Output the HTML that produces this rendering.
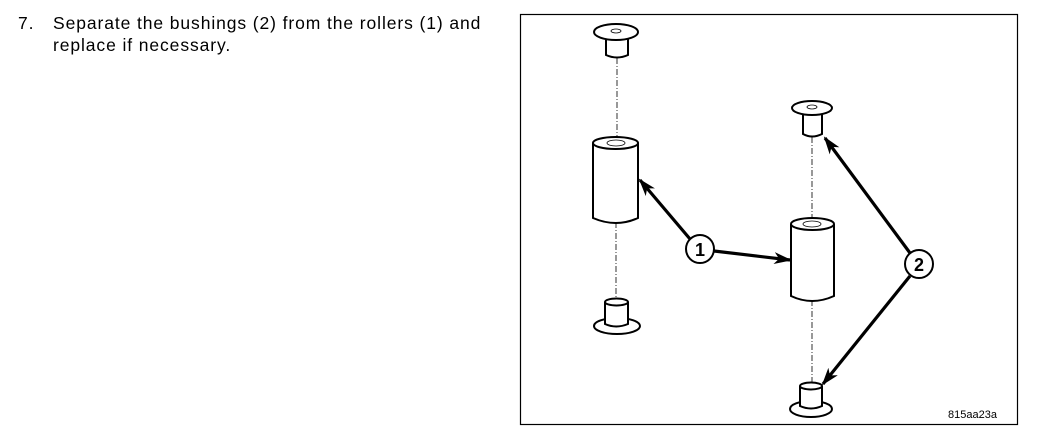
<!DOCTYPE html>
<html><head><style>
body{margin:0;width:1049px;height:441px;background:#fff;overflow:hidden;position:relative;font-family:"Liberation Sans",sans-serif;}
.t{position:absolute;font-size:17.5px;line-height:22px;color:#000;letter-spacing:0.9px;}
</style></head><body>
<div class="t" style="left:18px;top:12px;">7.</div>
<div class="t" style="left:53px;top:12px;width:470px;">Separate the bushings (2) from the rollers (1) and<br>replace if necessary.</div>
<svg width="1049" height="441" style="position:absolute;left:0;top:0" xmlns="http://www.w3.org/2000/svg">
<defs><marker id="a" markerWidth="18" markerHeight="12" refX="16" refY="6" orient="auto" markerUnits="userSpaceOnUse"><path d="M0,0 L18,6 L0,12 L5,6z" fill="#000"/></marker></defs>
<rect x="520.5" y="14.5" width="497" height="410" fill="none" stroke="#000" stroke-width="1.2"/>
<g stroke="#000" stroke-width="0.8" stroke-dasharray="6,2,1,2" fill="none">
<line x1="617" y1="58" x2="617" y2="140"/><line x1="616" y1="222" x2="616" y2="302"/>
<line x1="812" y1="137" x2="812" y2="220"/><line x1="812" y1="300" x2="812" y2="384"/>
</g>
<g stroke="#000" stroke-width="2" fill="#fff">
<path d="M606,34 V55 Q617,60 628,55 V34"/>
<ellipse cx="616" cy="32" rx="22" ry="8"/>
<ellipse cx="616" cy="31" rx="5" ry="2" stroke-width="0.8"/>
<path d="M593,143 V218 Q616,228 638,218 V143"/>
<ellipse cx="615.5" cy="143" rx="22.5" ry="6"/>
<ellipse cx="616" cy="143" rx="9" ry="3" stroke-width="0.8"/>
<ellipse cx="617" cy="326" rx="23" ry="8"/>
<path d="M605,302 V324 Q616,329 628,324 V302"/>
<ellipse cx="616.5" cy="302" rx="11.5" ry="3.5"/>
<path d="M803,110 V134 Q812,139 822,134 V110"/>
<ellipse cx="812" cy="108" rx="20" ry="7"/>
<ellipse cx="812" cy="107" rx="5" ry="2" stroke-width="0.8"/>
<path d="M791,224 V296 Q812,306 834,296 V224"/>
<ellipse cx="812.5" cy="224" rx="21.5" ry="6"/>
<ellipse cx="812" cy="224" rx="9" ry="3" stroke-width="0.8"/>
<ellipse cx="811" cy="409" rx="21" ry="8"/>
<path d="M800,386 V406 Q811,411 822,406 V386"/>
<ellipse cx="811" cy="386" rx="11" ry="3.5"/>
</g>
<g stroke="#000" stroke-width="3.2" fill="none">
<line x1="690" y1="239" x2="640" y2="180" marker-end="url(#a)"/>
<line x1="714" y1="251" x2="790" y2="260" marker-end="url(#a)"/>
<line x1="910" y1="253" x2="825" y2="138" marker-end="url(#a)"/>
<line x1="910" y1="276" x2="823" y2="384" marker-end="url(#a)"/>
</g>
<g stroke="#000" stroke-width="2" fill="#fff">
<circle cx="700" cy="249" r="14"/><circle cx="919" cy="264" r="14"/>
</g>
<g font-family="Liberation Sans,sans-serif" font-size="18" font-weight="bold" text-anchor="middle" fill="#000">
<text x="700" y="256">1</text><text x="919" y="271">2</text>
</g>
<text x="948" y="418" font-family="Liberation Sans,sans-serif" font-size="11" fill="#000">815aa23a</text>
</svg>
</body></html>
